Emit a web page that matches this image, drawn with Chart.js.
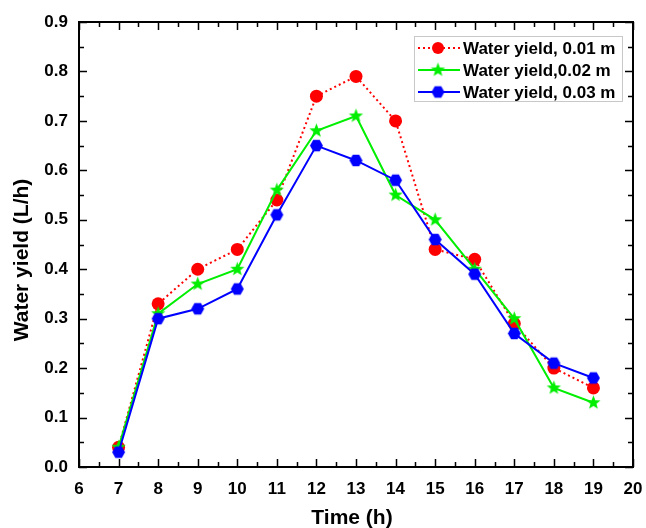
<!DOCTYPE html>
<html>
<head>
<meta charset="utf-8">
<script src="https://cdn.jsdelivr.net/npm/chart.js@4/dist/chart.umd.min.js"></script>
<style>
  body { margin: 0; background: #fff; }
  #wrap { width: 646px; height: 528px; }
</style>
</head>
<body>
<div id="wrap"><canvas id="myChart" width="646" height="528"></canvas></div>
<script>
const hours = [7, 8, 9, 10, 11, 12, 13, 14, 15, 16, 17, 18, 19];
const yield001 = [0.04, 0.33, 0.40, 0.44, 0.54, 0.75, 0.79, 0.70, 0.44, 0.42, 0.29, 0.20, 0.16];
const yield002 = [0.04, 0.31, 0.37, 0.40, 0.56, 0.68, 0.71, 0.55, 0.50, 0.40, 0.30, 0.16, 0.13];
const yield003 = [0.03, 0.30, 0.32, 0.36, 0.51, 0.65, 0.62, 0.58, 0.46, 0.39, 0.27, 0.21, 0.18];
const seriesLabels = ['Water yield, 0.01 m', 'Water yield,0.02 m', 'Water yield, 0.03 m'];
const xTitle = 'Time (h)';
const yTitle = 'Water yield (L/h)';

const fam = '"Liberation Sans", Arial, sans-serif';

function makeMarker(kind, color, r) {
  let c = document.createElement('canvas');
  let s = r * 2 + 2;
  c.width = s; c.height = s;
  let g = c.getContext('2d');
  g.fillStyle = color;
  g.beginPath();
  let cx = s / 2, cy = s / 2;
  if (kind === 'star') {
    for (let i = 0; i < 10; i++) {
      let rr = i % 2 === 0 ? r : r * 0.42;
      let a = -Math.PI / 2 + i * Math.PI / 5;
      let px = cx + rr * Math.cos(a), py = cy + rr * Math.sin(a);
      if (i === 0) g.moveTo(px, py); else g.lineTo(px, py);
    }
  } else {
    for (let i = 0; i < 6; i++) {
      let a = i * Math.PI / 3;
      let px = cx + r * Math.cos(a), py = cy + r * Math.sin(a);
      if (i === 0) g.moveTo(px, py); else g.lineTo(px, py);
    }
  }
  g.closePath();
  g.fill();
  return c;
}

const starImg = makeMarker('star', '#00ee00', 7.5);
const hexImg = makeMarker('hex', '#0000ff', 6.5);

function pts(arr) {
  return arr.map((v, i) => ({ x: hours[i], y: v }));
}

// frame, inward ticks, axis titles and legend box
const framePlugin = {
  id: 'frame',
  afterDraw(chart) {
    const ctx = chart.ctx;
    const a = chart.chartArea;
    const xs = chart.scales.x, ys = chart.scales.y;
    ctx.save();
    ctx.strokeStyle = '#000';
    ctx.lineWidth = 2;
    ctx.strokeRect(a.left, a.top, a.right - a.left, a.bottom - a.top);
    ctx.lineWidth = 1.5;
    ctx.beginPath();
    for (let v = 6; v <= 20.001; v += 0.5) {
      let px = Math.round(xs.getPixelForValue(v)) + 0.5;
      let len = Math.abs(v - Math.round(v)) < 0.01 ? 8 : 5;
      ctx.moveTo(px, a.bottom); ctx.lineTo(px, a.bottom - len);
      ctx.moveTo(px, a.top); ctx.lineTo(px, a.top + len);
    }
    for (let k = 0; k <= 18; k++) {
      let py = Math.round(ys.getPixelForValue(k * 0.05)) + 0.5;
      let len = k % 2 === 0 ? 8 : 5;
      ctx.moveTo(a.left, py); ctx.lineTo(a.left + len, py);
      ctx.moveTo(a.right, py); ctx.lineTo(a.right - len, py);
    }
    ctx.stroke();

    // axis titles
    ctx.fillStyle = '#000';
    ctx.font = 'bold 21px ' + fam;
    ctx.textAlign = 'center';
    ctx.textBaseline = 'middle';
    ctx.fillText(xTitle, (a.left + a.right) / 2 - 4, 518);
    ctx.save();
    ctx.translate(22, 260);
    ctx.rotate(-Math.PI / 2);
    ctx.fillText(yTitle, 0, 0);
    ctx.restore();

    // legend
    const lx = 414, ly = 36, lw = 208, lh = 65;
    ctx.fillStyle = '#fff';
    ctx.fillRect(lx, ly, lw, lh);
    ctx.strokeStyle = '#c8c8c8';
    ctx.lineWidth = 1;
    ctx.strokeRect(lx + 0.5, ly + 0.5, lw, lh);
    const ds = chart.data.datasets;
    ctx.font = 'bold 17px ' + fam;
    ctx.textAlign = 'left';
    ctx.textBaseline = 'middle';
    for (let i = 0; i < ds.length; i++) {
      let y = ly + 12 + i * 22;
      ctx.strokeStyle = ds[i].borderColor;
      ctx.lineWidth = 2;
      ctx.setLineDash(ds[i].borderDash || []);
      ctx.beginPath();
      ctx.moveTo(lx + 4, y); ctx.lineTo(lx + 46, y);
      ctx.stroke();
      ctx.setLineDash([]);
      let ps = ds[i].pointStyle;
      if (ps === 'circle') {
        ctx.fillStyle = ds[i].pointBackgroundColor;
        ctx.beginPath();
        ctx.arc(lx + 24, y, 6, 0, Math.PI * 2);
        ctx.fill();
      } else {
        ctx.drawImage(ps, lx + 24 - ps.width / 2, y - ps.height / 2);
      }
      ctx.fillStyle = '#000';
      ctx.fillText(ds[i].label, lx + 49, y + 1);
    }
    ctx.restore();
  }
};

new Chart(document.getElementById('myChart'), {
  type: 'line',
  data: {
    datasets: [
      {
        label: seriesLabels[0],
        data: pts(yield001),
        order: 3,
        borderColor: '#ff0000',
        borderWidth: 2,
        borderDash: [2, 3],
        pointStyle: 'circle',
        pointRadius: 6.5,
        pointBackgroundColor: '#ff0000',
        pointBorderWidth: 0,
        tension: 0
      },
      {
        label: seriesLabels[1],
        data: pts(yield002),
        order: 2,
        borderColor: '#00ee00',
        borderWidth: 2,
        pointStyle: starImg,
        tension: 0
      },
      {
        label: seriesLabels[2],
        data: pts(yield003),
        order: 1,
        borderColor: '#0000ff',
        borderWidth: 2,
        pointStyle: hexImg,
        tension: 0
      }
    ]
  },
  options: {
    responsive: false,
    animation: false,
    layout: { padding: { top: 22, right: 13, left: 0, bottom: 0 } },
    plugins: {
      legend: { display: false },
      tooltip: { enabled: false }
    },
    scales: {
      x: {
        type: 'linear',
        min: 6,
        max: 20,
        afterFit(s) { s.height = 61; s.paddingLeft = 0; s.paddingRight = 0; },
        ticks: {
          stepSize: 1,
          color: '#000',
          font: { family: fam, size: 17, weight: 'bold' },
          padding: 12,
          maxRotation: 0
        },
        grid: { display: false, drawTicks: false },
        border: { display: false }
      },
      y: {
        min: 0,
        max: 0.9,
        afterFit(s) { s.width = 79; s.paddingTop = 0; s.paddingBottom = 0; },
        ticks: {
          stepSize: 0.1,
          color: '#000',
          font: { family: fam, size: 17, weight: 'bold' },
          padding: 11,
          callback: v => v.toFixed(1)
        },
        grid: { display: false, drawTicks: false },
        border: { display: false }
      }
    }
  },
  plugins: [framePlugin]
});
</script>
</body>
</html>
